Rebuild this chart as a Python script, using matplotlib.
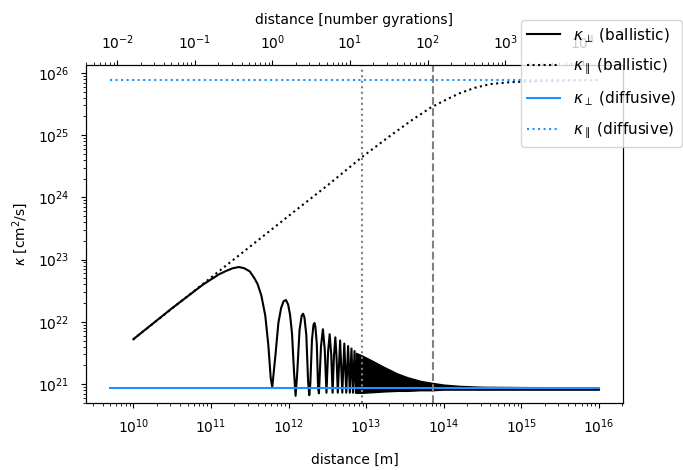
import numpy as np
import matplotlib
matplotlib.use("Agg")
import matplotlib.pyplot as plt

# ---------------- data ----------------
# kappa_perp (ballistic): log10(distance [m]) and log10(kappa [cm^2/s])
perp_ball_logd = [10.0, 10.5, 10.9, 11.1, 11.2, 11.28, 11.36, 11.43, 11.5, 11.56, 11.6, 11.65,
                  11.70, 11.74, 11.77, 11.79,
                  11.831, 11.869, 11.904, 11.936, 11.966, 11.994, 12.020, 12.045, 12.069, 12.091,
                  12.112, 12.142, 12.170, 12.188, 12.205, 12.229, 12.252, 12.267,
                  12.281, 12.302, 12.3215, 12.334, 12.3463, 12.364, 12.381, 12.392,
                  12.418, 12.443, 12.467, 12.489,
                  12.510, 12.530, 12.550, 12.568,
                  12.586, 12.603, 12.619, 12.635,
                  12.665, 12.693, 12.719, 12.744, 12.768, 12.790, 12.811, 12.831, 12.851, 12.869]
perp_ball_logk = [21.72, 22.22, 22.60, 22.76, 22.82, 22.86, 22.88, 22.86, 22.81, 22.70, 22.61, 22.42,
                  22.10, 21.62, 21.10, 20.95,
                  21.46, 21.98, 22.22, 22.33, 22.35, 22.28, 22.11, 21.81, 21.23, 20.81,
                  21.18, 21.87, 22.10, 22.13, 22.07, 21.79, 21.05, 20.82,
                  21.01, 21.71, 21.95, 21.98, 21.92, 21.65, 20.93, 20.85,
                  21.60, 21.88, 21.55, 20.86,
                  21.52, 21.80, 21.48, 20.86,
                  21.46, 21.75, 21.43, 20.86,
                  21.70, 20.86, 21.65, 20.86, 21.61, 20.86, 21.57, 20.86, 21.53, 20.86]
# dense oscillation band of kappa_perp (ballistic)
band_logd = [12.869, 12.96, 13.1, 13.22, 13.4, 13.53, 13.7, 13.84, 14.0, 14.2, 14.5, 15.0, 16.0]
band_upper_logk = [21.50, 21.45, 21.36, 21.28, 21.17, 21.11, 21.05, 21.02, 20.99, 20.97, 20.955, 20.95, 20.945]
band_lower_logk = [20.86, 20.86, 20.87, 20.88, 20.89, 20.89, 20.90, 20.90, 20.91, 20.91, 20.91, 20.91, 20.91]

# kappa_parallel (ballistic)
par_ball_logd = [10.0, 11.0, 12.0, 12.5, 12.95, 13.3, 13.6, 13.83, 14.0, 14.2, 14.4, 14.6, 14.85, 15.2, 15.6, 16.0]
par_ball_logk = [21.72, 22.71, 23.70, 24.19, 24.65, 24.98, 25.25, 25.44, 25.55, 25.67, 25.76, 25.82, 25.85, 25.87, 25.88, 25.885]

# diffusive values
diff_d = [5e9, 1e16]
kappa_perp_diff = 8.5e20
kappa_par_diff = 7.8e25

gyration_length = 6.2e11      # metres per gyration
vline_dotted = 8.9e12
vline_dashed = 7.2e13

# ---------------- plot ----------------
fig = plt.figure(figsize=(6.83, 4.70), dpi=100)
ax = fig.add_axes([0.126, 0.1426, 0.786, 0.7195])

blue = "dodgerblue"
l1, = ax.plot(10 ** np.array(perp_ball_logd), 10 ** np.array(perp_ball_logk),
              color="black", lw=1.5, label=r"$\kappa_\perp$ (ballistic)")
ax.fill_between(10 ** np.array(band_logd), 10 ** np.array(band_lower_logk),
                10 ** np.array(band_upper_logk), color="black", lw=1.0, edgecolor="black")
l2, = ax.plot(10 ** np.array(par_ball_logd), 10 ** np.array(par_ball_logk),
              color="black", ls=":", lw=1.5, label=r"$\kappa_\parallel$ (ballistic)")
l3, = ax.plot(diff_d, [kappa_perp_diff] * 2, color=blue, lw=1.5,
              label=r"$\kappa_\perp$ (diffusive)")
l4, = ax.plot(diff_d, [kappa_par_diff] * 2, color=blue, ls=":", lw=1.5,
              label=r"$\kappa_\parallel$ (diffusive)")
ax.axvline(vline_dotted, color="gray", ls=":", lw=1.5)
ax.axvline(vline_dashed, color="gray", ls="--", lw=1.5)

ax.set_xscale("log")
ax.set_yscale("log")
xlim = (10 ** 9.39, 10 ** 16.31)
ax.set_xlim(*xlim)
ax.set_ylim(10 ** 20.695, 10 ** 26.13)
ax.tick_params(axis="x", which="major", pad=7)
ax.tick_params(axis="y", which="major", pad=8.5)
ax.set_xlabel("distance [m]", labelpad=12)
ax.set_ylabel(r"$\kappa$ [cm$^2$/s]", labelpad=6)

ax2 = ax.twiny()
ax2.set_xscale("log")
ax2.set_xlim(xlim[0] / gyration_length, xlim[1] / gyration_length)
ax2.tick_params(axis="x", which="major", pad=5.5)
ax2.set_xlabel("distance [number gyrations]", labelpad=7)

fig.legend(handles=[l1, l2, l3, l4], loc="upper right", fontsize=11,
           handlelength=2.2, labelspacing=0.8, borderaxespad=0.0,
           bbox_to_anchor=(682 / 683, 450 / 470), bbox_transform=fig.transFigure)

fig.savefig("out.png", dpi=100)
